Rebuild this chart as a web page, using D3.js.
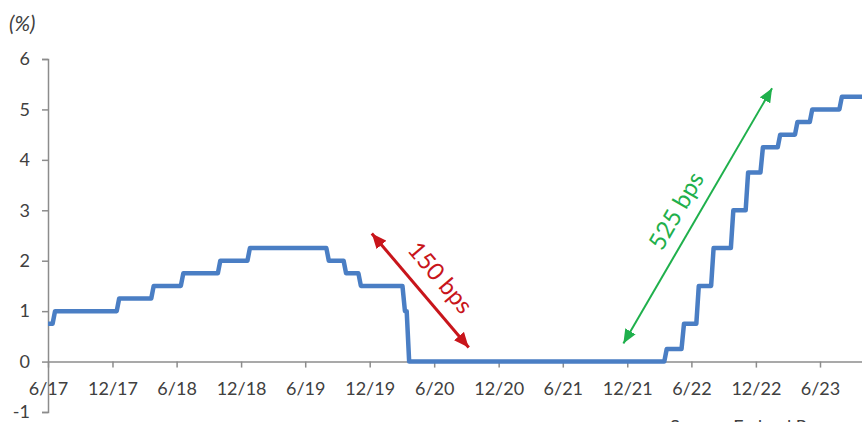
<!DOCTYPE html>
<html>
<head>
<meta charset="utf-8">
<script src="https://cdn.jsdelivr.net/npm/d3@7"></script>
<style>
  html, body { margin: 0; padding: 0; background: #fff; }
  svg { display: block; }
  text { font-family: Lato, "Open Sans", sans-serif; }
</style>
</head>
<body>
<svg id="chart" width="862" height="422"></svg>
<script>
// Fed funds target range, lower bound (%): starting level and each policy change
const startDate = "2017-06-01";
const startRate = 0.75;
const changeDates = [
  "2017-06-14", "2017-12-13", "2018-03-21", "2018-06-13", "2018-09-26", "2018-12-19",
  "2019-07-31", "2019-09-18", "2019-10-30", "2020-03-03", "2020-03-15",
  "2022-03-16", "2022-05-04", "2022-06-15", "2022-07-27", "2022-09-21", "2022-11-02",
  "2022-12-14", "2023-02-01", "2023-03-22", "2023-05-03", "2023-07-26"
];
const changeRates = [
  1.00, 1.25, 1.50, 1.75, 2.00, 2.25,
  2.00, 1.75, 1.50, 1.00, 0.00,
  0.25, 0.75, 1.50, 2.25, 3.00, 3.75,
  4.25, 4.50, 4.75, 5.00, 5.25
];
const endDate = "2023-10-01";

// Axis ticks
const xTickDates = ["2017-06-01", "2017-12-01", "2018-06-01", "2018-12-01", "2019-06-01",
  "2019-12-01", "2020-06-01", "2020-12-01", "2021-06-01", "2021-12-01", "2022-06-01",
  "2022-12-01", "2023-06-01"];
const yTicks = [-1, 0, 1, 2, 3, 4, 5, 6];

// Bracketing arrows for the easing and tightening cycles: [date, rate] ends
const easeArrow = { from: ["2019-12-07", 2.54], to: ["2020-09-07", 0.28], label: "150 bps", at: ["2020-06-21", 1.68] };
const hikeArrow = { from: ["2021-11-20", 0.36], to: ["2023-01-16", 5.42], label: "525 bps", at: ["2022-04-16", 3.0] };

const parse = d3.utcParse("%Y-%m-%d");
const svg = d3.select("#chart");

const x = d3.scaleUtc()
  .domain([parse("2017-06-01"), parse("2023-06-01")])
  .range([48, 820]);
const y = d3.scaleLinear().domain([-1, 6]).range([412, 59]);

// Weekly observations: the level holds until a change, reaching the new level a week later
const WEEK = 7 * 24 * 3600 * 1000;
const series = [{ date: parse(startDate), rate: startRate }];
let level = startRate;
changeDates.forEach((d, i) => {
  const t = parse(d);
  series.push({ date: t, rate: level });
  level = changeRates[i];
  series.push({ date: new Date(+t + WEEK), rate: level });
});
series.push({ date: parse(endDate), rate: level });

const axisColor = "#8c8c8c";
const textColor = "#404040";

// Y axis
const yAxis = svg.append("g")
  .attr("transform", `translate(${x(parse("2017-06-01"))},0)`)
  .call(d3.axisLeft(y).tickValues(yTicks).tickFormat(d => String(d)).tickSize(6).tickPadding(12));
yAxis.selectAll("path, line").attr("stroke", axisColor).attr("stroke-width", 1.5);
yAxis.selectAll("text").attr("fill", textColor).style("font-size", "18px");

// X axis along zero
const xAxis = svg.append("g")
  .attr("transform", `translate(0,${y(0)})`)
  .call(d3.axisBottom(x).tickValues(xTickDates.map(parse)).tickFormat(d3.utcFormat("%-m/%y"))
    .tickSize(6).tickSizeOuter(0).tickPadding(15));
xAxis.select(".domain").attr("d", `M${x(parse("2017-06-01"))},0.5H862`);
xAxis.selectAll("path, line").attr("stroke", axisColor).attr("stroke-width", 1.5);
xAxis.selectAll("text").attr("fill", textColor).style("font-size", "18px");

// Unit label
svg.append("text")
  .attr("x", 9).attr("y", 31)
  .attr("fill", textColor)
  .style("font-size", "21px").style("font-style", "italic")
  .text("(%)");

// Rate line
const line = d3.line().x(d => x(d.date)).y(d => y(d.rate)).curve(d3.curveLinear);
svg.append("path")
  .datum(series)
  .attr("fill", "none")
  .attr("stroke", "#4a7ec4")
  .attr("stroke-width", 4.5)
  .attr("stroke-linejoin", "round")
  .attr("d", line);

// Double-headed arrows with rotated labels
const defs = svg.append("defs");
function addMarker(id, color, len, wid) {
  defs.append("marker")
    .attr("id", id)
    .attr("viewBox", `0 0 ${len} ${wid}`)
    .attr("refX", len).attr("refY", wid / 2)
    .attr("markerWidth", len).attr("markerHeight", wid)
    .attr("markerUnits", "userSpaceOnUse")
    .attr("orient", "auto-start-reverse")
    .append("path")
    .attr("d", `M0,0L${len},${wid / 2}L0,${wid}Z`)
    .attr("fill", color);
}
addMarker("headRed", "#c8151b", 15, 13);
addMarker("headGreen", "#1fb04c", 14, 12);

function drawArrow(a, color, width, marker, fontSize) {
  const x1 = x(parse(a.from[0])), y1 = y(a.from[1]);
  const x2 = x(parse(a.to[0])), y2 = y(a.to[1]);
  svg.append("line")
    .attr("x1", x1).attr("y1", y1).attr("x2", x2).attr("y2", y2)
    .attr("stroke", color).attr("stroke-width", width)
    .attr("marker-start", `url(#${marker})`)
    .attr("marker-end", `url(#${marker})`);
  let ang = Math.atan2(y2 - y1, x2 - x1) * 180 / Math.PI;
  if (ang > 90) ang -= 180;
  if (ang < -90) ang += 180;
  const tx = x(parse(a.at[0])), ty = y(a.at[1]);
  svg.append("text")
    .attr("transform", `translate(${tx},${ty}) rotate(${ang})`)
    .attr("text-anchor", "middle")
    .attr("dominant-baseline", "central")
    .attr("fill", color)
    .style("font-size", fontSize + "px")
    .text(a.label);
}
drawArrow(easeArrow, "#c8151b", 3, "headRed", 24);
drawArrow(hikeArrow, "#1fb04c", 2, "headGreen", 24);

// Source line along the bottom edge
svg.append("text")
  .attr("x", 670).attr("y", 433)
  .attr("fill", textColor)
  .style("font-size", "18px")
  .text("Source: Federal Reserve");
</script>
</body>
</html>
